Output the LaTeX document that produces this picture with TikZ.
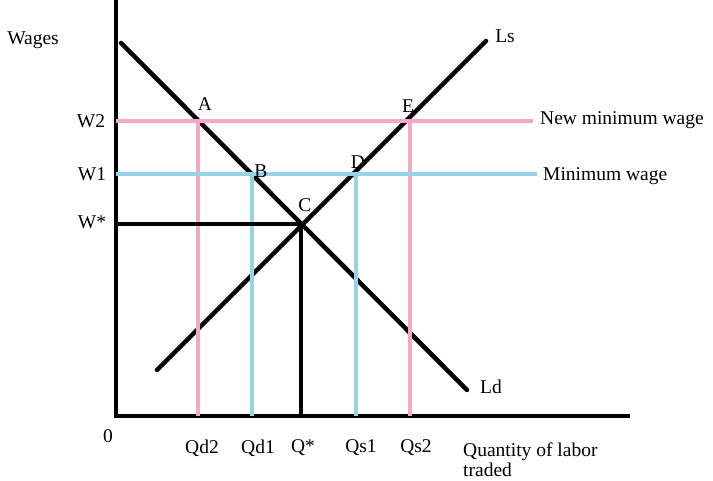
\documentclass[tikz,border=0pt]{standalone}
\usepackage{fontspec}
\setmainfont{Liberation Serif}
\definecolor{pinkline}{RGB}{244,168,196}
\definecolor{blueline}{RGB}{150,210,232}
\begin{document}
\begin{tikzpicture}[x=1pt,y=-1pt,
  lbl/.style={inner sep=0pt, font=\fontsize{19.5}{22}\selectfont},
  curve/.style={line width=4.5pt, line cap=round},
  axis/.style={line width=4.5pt},
  pinkl/.style={pinkline, line width=3.8pt},
  bluel/.style={blueline, line width=3.8pt},
  blackl/.style={black, line width=3.8pt}]
\useasboundingbox (0,0) rectangle (713,481);
% key points
\coordinate (O) at (116,416);
\coordinate (Ytop) at (116,0);
\coordinate (Xend) at (630,416);
\coordinate (LdS) at (121,43);
\coordinate (LdE) at (467,390);
\coordinate (LsS) at (157,370);
\coordinate (LsE) at (486,41);
\coordinate (A) at (198,121);
\coordinate (B) at (252,174);
\coordinate (C) at (301,224);
\coordinate (D) at (356,174);
\coordinate (E) at (410,121);
\coordinate (W2end) at (533,121);
\coordinate (W1end) at (537,174);
% axes
\draw[axis] (Ytop) |- (Xend);
% curves
\draw[curve] (LdS) -- (LdE);
\draw[curve] (LsS) -- (LsE);
% wage lines
\draw[pinkl] (A -| O) -- (W2end);
\draw[pinkl] (A) -- (A |- O);
\draw[pinkl] (E) -- (E |- O);
\draw[bluel] (B -| O) -- (W1end);
\draw[bluel] (B) -- (B |- O);
\draw[bluel] (D) -- (D |- O);
\draw[blackl] (C -| O) -- (C);
\draw[blackl] (C) -- (C |- O);
% labels
\node[lbl] (wages) at (33,40) {Wages};
\node[lbl] (w2) at (91,121) {W2};
\node[lbl] (w1) at (92,174) {W1};
\node[lbl] (ws) at (92,222) {W*};
\node[lbl] (la) at (205,104) {A};
\node[lbl] (lb) at (261,171) {B};
\node[lbl] (lc) at (305,205) {C};
\node[lbl] (ld) at (358,162) {D};
\node[lbl] (le) at (408,106) {E};
\node[lbl] (ls) at (505,36) {Ls};
\node[lbl] (ldd) at (491,387) {Ld};
\node[lbl, anchor=west] (nmw) at (540,120) {New minimum wage};
\node[lbl, anchor=west] (mw) at (543,176) {Minimum wage};
\node[lbl] (zero) at (108,436) {0};
\node[lbl] (qd2) at (202,448) {Qd2};
\node[lbl] (qd1) at (258,448) {Qd1};
\node[lbl] (qs) at (303,448) {Q*};
\node[lbl] (qs1) at (361,448) {Qs1};
\node[lbl] (qs2) at (416,448) {Qs2};
\node[lbl, anchor=west] (qty) at (463,452) {Quantity of labor};
\node[lbl, anchor=west] (trd) at (463,470) {traded};
\end{tikzpicture}
\end{document}
